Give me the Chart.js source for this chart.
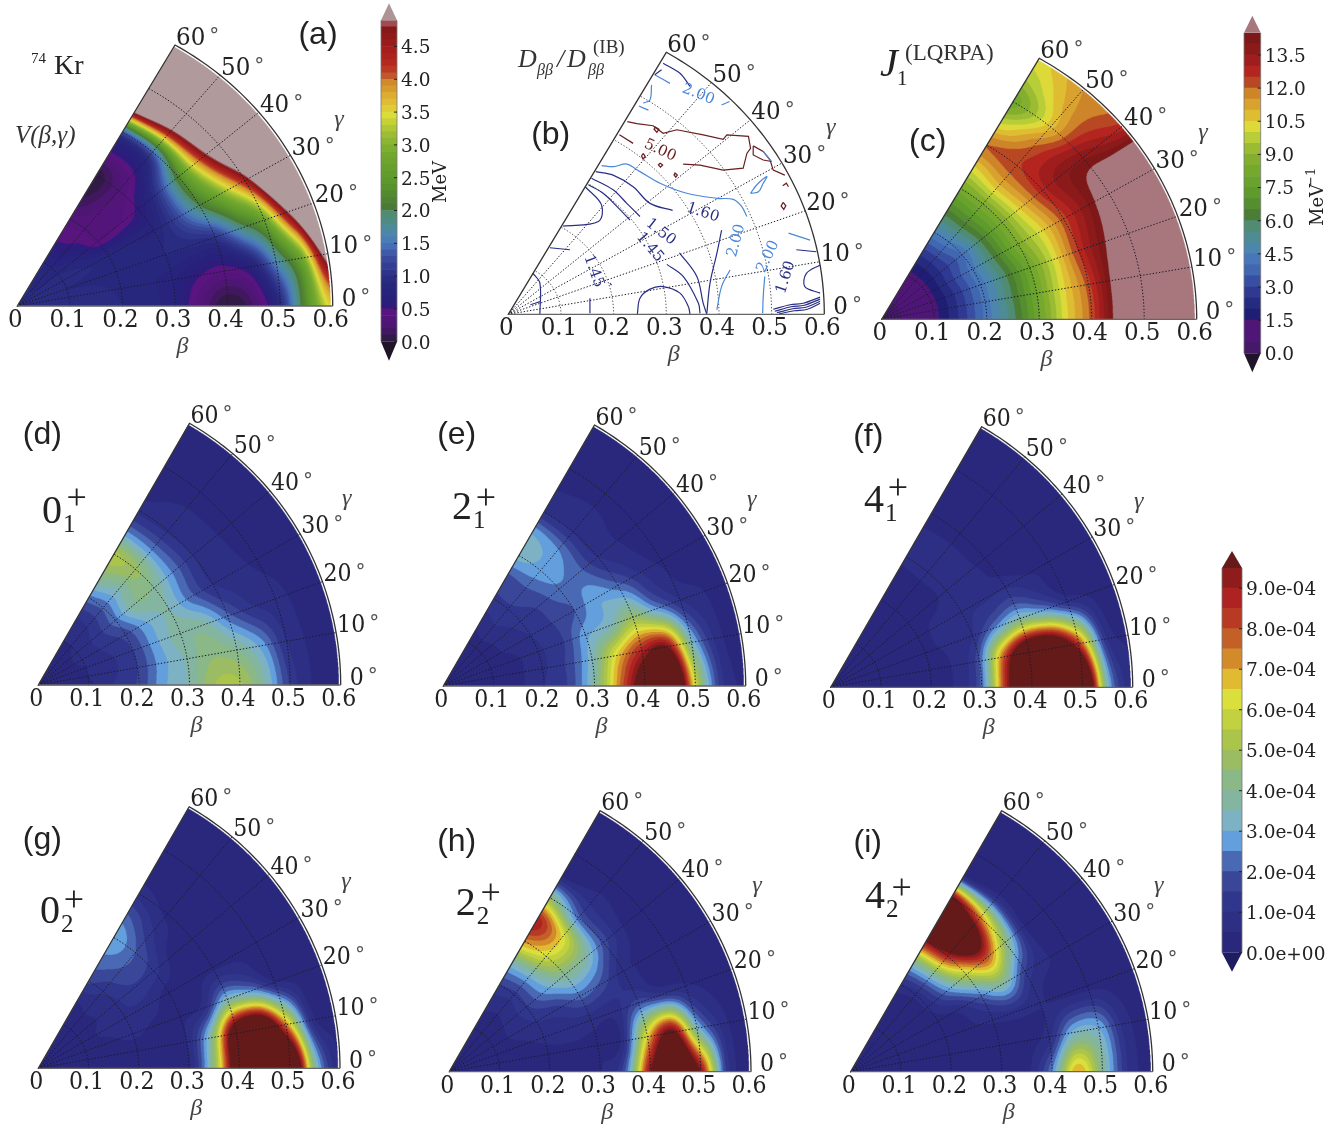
<!DOCTYPE html>
<html>
<head>
<meta charset="utf-8">
<title>74Kr collective wave functions</title>
<script src="https://cdn.jsdelivr.net/npm/chart.js@4/dist/chart.umd.min.js"></script>
<style>
  html, body { margin: 0; padding: 0; background: #fff; }
  #page { position: relative; width: 1344px; height: 1124px; overflow: hidden; }
  canvas { position: absolute; }
</style>
</head>
<body>
<div id="page"></div>
<script>
// ---- data: rows are gamma 0..60 (step 10), columns are beta 0..0.6 (step 0.05) ----
const BETA_NODES = [0, .05, .1, .15, .2, .25, .3, .35, .4, .45, .5, .55, .6];
const GAMMA_NODES = [0, 10, 20, 30, 40, 50, 60];
const BETA_TICKS = [0, .1, .2, .3, .4, .5, .6];
const BETA_LABELS = ["0", "0.1", "0.2", "0.3", "0.4", "0.5", "0.6"];
const GAMMA_TICKS = [0, 10, 20, 30, 40, 50, 60];

// V(beta,gamma), MeV
const gridA = [
  [.95,.95,.95,.93,.9,.85,.7,.3,0,.2,.9,2.3,3.6],
  [.95,.95,.95,.93,.88,.83,.72,.52,.42,.68,1.6,2.8,5.3],
  [.95,.93,.9,.88,.85,.85,.9,.92,1.05,1.8,2.7,5,7.5],
  [.95,.92,.95,.9,.85,.8,.8,1.2,2,3,4.5,7,8],
  [.95,.9,.88,.75,.4,.4,.55,1.1,2.2,4,6.2,8,9],
  [.95,.88,.8,.55,.38,.32,.3,.55,1.4,4.5,6.8,8,9],
  [.95,.9,.8,.5,.35,.1,.02,.45,1.3,5.2,7,8,9],
];
// J1 (LQRPA), 1/MeV
const gridC = [
  [.3,.6,1.3,2.6,4.2,5.8,7.9,10.3,12.2,15,17,18,18],
  [.3,.6,1.3,2.6,4.2,5.9,8,10.3,12.3,14.9,17,18,18],
  [.3,.6,1.3,2.6,4.2,5.9,8,10.2,12.6,14.4,16,18,18],
  [.3,.6,1.3,2.7,4.3,6.2,8.5,10.3,12.3,13.9,15.5,17,18],
  [.3,.6,1.3,2.6,4,6.3,8.5,10.8,12.8,13.8,13.9,13.3,12.7],
  [.3,.6,1.3,2.6,4.4,6.5,8.5,11,12.4,12,10.8,11.2,11.5],
  [.3,.6,1.3,2.6,4.5,6.4,8.3,10.4,12,10,8.2,9.5,10.3],
];
// probability densities, in units of 1e-4
const gridD = [
  [.35,.35,.4,1,1.6,2.9,3.6,5,5.1,3.6,1.4,.4,.3],
  [.35,.35,.5,.9,1.5,2.8,3.6,4.4,4,2.8,1,.4,.3],
  [.3,.35,.5,.9,1.5,2.9,3.8,3.7,2.2,1.1,.7,.35,.3],
  [.3,.35,.6,1.1,1.7,3,3.5,2.2,1,.7,.4,.3,.3],
  [.3,.35,.6,1.2,2.3,3.9,3.9,2.4,1,.6,.3,.3,.3],
  [.3,.35,.5,1,2.1,3.6,4.7,2.5,.9,.55,.3,.3,.3],
  [.3,.35,.5,.9,2.3,4.2,5.2,2.6,.8,.4,.3,.3,.3],
];
const gridE = [
  [.3,.3,.3,.4,1,1.6,3.8,7.5,11,14,6,1.3,.4],
  [.3,.3,.3,.4,.9,1.6,3.4,6.5,8.8,9.6,3.5,.8,.3],
  [.3,.3,.3,.4,.9,1.4,2.8,3.4,4.7,2.7,1,.5,.3],
  [.3,.3,.3,.6,1,1.5,2,2.9,2.2,1,.4,.3,.3],
  [.3,.3,.3,.7,1.2,1.6,2.4,2.2,1,.5,.3,.3,.3],
  [.3,.3,.3,.9,1.4,1.9,2.8,2.6,1,.6,.3,.3,.3],
  [.3,.3,.3,.7,1.4,1.8,3.2,3,1,.5,.3,.3,.3],
];
const gridF = [
  [.3,.3,.3,.3,.3,.6,2.2,9,14,14,14,3.5,.5],
  [.3,.3,.3,.3,.3,.6,2,8,12.5,12.5,8.5,1.5,.4],
  [.3,.3,.3,.3,.4,.6,1,2.6,3.8,2.7,1,.4,.3],
  [.3,.3,.3,.3,.3,.7,.9,.9,.9,.5,.3,.3,.3],
  [.3,.3,.3,.3,.3,.3,.65,.7,.3,.3,.3,.3,.3],
  [.3,.3,.3,.3,.3,.3,.65,.65,.3,.3,.3,.3,.3],
  [.3,.3,.3,.3,.3,.3,.6,.6,.3,.3,.3,.3,.3],
];
const gridG = [
  [.3,.3,.3,.3,.3,.3,.4,4.5,12,14,14,4,.4],
  [.3,.3,.3,.3,.3,.3,.5,4,11.5,13,7.5,1,.3],
  [.3,.3,.3,.4,.6,.4,.4,.8,3.5,2.7,.6,.3,.3],
  [.3,.3,.3,.6,.9,.8,.3,.3,.35,.3,.3,.3,.3],
  [.3,.3,.3,.5,.9,1.4,1.2,.3,.3,.3,.3,.3,.3],
  [.3,.3,.3,.55,1.1,1.9,2,1.1,.4,.3,.3,.3,.3],
  [.3,.3,.3,.45,1.6,2.3,3,2.1,.8,.3,.3,.3,.3],
];
const gridH = [
  [.3,.3,.3,.3,.3,.3,.45,2,9.5,13,9.5,1.5,.4],
  [.3,.3,.3,.3,.4,.4,.45,.7,6.5,10,3.5,.8,.3],
  [.3,.3,.3,.4,.6,.75,.7,.7,1.8,1.2,.6,.3,.3],
  [.3,.3,.3,.6,1,1.3,2.2,1.8,.7,.4,.3,.3,.3],
  [.3,.3,.3,.6,1.4,2.7,4,3.8,1.8,.5,.3,.3,.3],
  [.3,.3,.3,.5,1.3,3.2,6,6.3,2.2,.7,.3,.3,.3],
  [.3,.3,.3,.6,1.5,3.5,7.2,8.8,4.5,.4,.3,.3,.3],
];
const gridI = [
  [.3,.3,.3,.3,.3,.3,.3,.3,2.5,7,4,1,.3],
  [.3,.3,.3,.3,.3,.3,.3,.35,.8,3.2,3,.8,.3],
  [.3,.3,.3,.3,.35,.4,.6,.8,.55,.35,.3,.3,.3],
  [.3,.3,.3,.3,.35,.7,2.2,3.8,1.5,.55,.3,.3,.3],
  [.3,.3,.3,.3,.6,2.5,5.5,8,4.5,.5,.3,.3,.3],
  [.3,.3,.3,.3,.7,3.5,8.8,12.5,7.5,1,.3,.3,.3],
  [.3,.3,.3,.3,.9,3.8,9.5,14,10,.5,.3,.3,.3],
];

// panel (b) contour lines, as [beta cos(gamma), beta sin(gamma)]
const redLines = [
  [[.226,.382],[.244,.378],[.275,.374],[.294,.359],[.32,.366],[.37,.356],[.408,.347],[.415,.356],[.456,.353],[.46,.329],[.453,.319],[.446,.29],[.408,.286],[.364,.296],[.332,.298]],
  [[.211,.356],[.237,.339]],
  [[.465,.334],[.484,.323],[.497,.306],[.503,.286],[.525,.276]],
  [[.465,.334],[.465,.316],[.484,.306],[.5,.303]],
  [[.522,.222],[.527,.215],[.523,.208],[.518,.215],[.522,.222]],
  [[.316,.281],[.321,.276],[.318,.272],[.315,.276],[.316,.281]],
  [[.288,.3],[.293,.296],[.289,.292],[.285,.296],[.288,.3]],
  [[.256,.319],[.26,.313],[.256,.308],[.253,.314],[.256,.319]],
  [[.278,.372],[.286,.367],[.282,.361],[.277,.367],[.278,.372]],
  [[.521,.255],[.528,.26],[.532,.253]],
];
const blueLines = [
  [[.177,.295],[.2,.293],[.225,.298],[.25,.283],[.288,.26],[.339,.24],[.396,.23],[.427,.228],[.443,.214],[.453,.194]],
  [[.278,.475],[.307,.458]],
  [[.272,.455],[.269,.425],[.256,.419]],
  [[.248,.413],[.266,.405]],
  [[.405,.415],[.42,.422]],
  [[.421,.088],[.405,.055],[.396,.009]],
  [[.487,.075],[.484,.035],[.483,.002]],
  [[.532,.161],[.573,.147]],
  [[.46,.24],[.472,.257],[.491,.273],[.484,.26],[.475,.243],[.46,.24]],
  [[.484,.323],[.5,.303]],
];
const navyLines = [
  [[.166,.283],[.199,.276],[.237,.253],[.269,.22],[.312,.206]],
  [[.158,.27],[.199,.247],[.225,.22],[.25,.194]],
  [[.152,.257],[.18,.24],[.206,.214],[.231,.187]],
  [[.146,.253],[.177,.217],[.171,.184],[.104,.175]],
  [[.079,.132],[.117,.128]],
  [[.047,.081],[.06,.062],[.06,0]],
  [[.042,.019],[.06,.025]],
  [[.155,.032],[.155,.002]],
  [[.193,.062],[.196,.058]],
  [[.245,0],[.25,.032],[.269,.05],[.294,.055],[.326,.042],[.342,.015],[.345,0]],
  [[.301,.099],[.332,.075],[.361,.022],[.364,.002]],
  [[.325,.122],[.358,.075],[.37,.022],[.377,0]],
  [[.405,.167],[.396,.121],[.383,.062],[.377,.002]],
  [[.547,.128],[.585,.124]],
  [[.592,.098],[.566,.081],[.563,.055],[.592,.042]],
  [[.503,.01],[.535,.019],[.56,.022],[.592,.034]],
  [[.506,.006],[.537,.015],[.562,.018],[.592,.03]],
  [[.51,.003],[.54,.011],[.565,.014],[.592,.026]],
  [[.514,.001],[.543,.007],[.568,.01],[.592,.022]],
  [[.294,.498],[.326,.478],[.345,.452]],
  [[.278,.475],[.291,.485]],
];
const contourTexts = ["1.45", "1.45", "1.50", "1.60", "1.60", "2.00", "2.00", "2.00", "5.00"];
const contourX = [.155, .263, .285, .367, .534, .358, .44, .5, .285];
const contourY = [.083, .128, .157, .194, .071, .429, .144, .111, .318];
const contourAngle = [70, 50, 38, 18, -72, 22, -75, -65, 25];
const contourColor = ["#2a2f86", "#2a2f86", "#2a2f86", "#2a2f86", "#2a2f86", "#4a88d8", "#4a88d8", "#4a88d8", "#6a1e1e"];

// colour bars
const probColors = ["#29287c","#2c2f84","#30368c","#3a4798","#4a69b4","#629fdc","#7cb2c4","#83b5a0","#8ab886","#9bbc62",
  "#abc44a","#c2d140","#dbdf3c","#e0ba30","#d28a2a","#c26028","#b83a24","#ae2222","#8f1c1c"];
const probTicks = [0,1,2,3,4,5,6,7,8,9];
const probLabels = ["0.0e+00","1.0e-04","2.0e-04","3.0e-04","4.0e-04","5.0e-04","6.0e-04","7.0e-04","8.0e-04","9.0e-04"];
const energyTicks = [0,.5,1,1.5,2,2.5,3,3.5,4,4.5];
const energyLabels = ["0.0","0.5","1.0","1.5","2.0","2.5","3.0","3.5","4.0","4.5"];
const inertiaTicks = [0,1.5,3,4.5,6,7.5,9,10.5,12,13.5];
const inertiaLabels = ["0.0","1.5","3.0","4.5","6.0","7.5","9.0","10.5","12.0","13.5"];
const energyStops = [[0,"#2a1a3a"],[.1,"#371a50"],[.2,"#4a1670"],[.45,"#5a1480"],[.5,"#34187c"],[.6,"#28207c"],[.9,"#28287e"],[1.1,"#30388c"],[1.3,"#3c50a4"],[1.5,"#4a78bc"],[1.7,"#4d8ca0"],[1.95,"#4f8c70"],[2.05,"#4a7a34"],[2.4,"#5a962c"],[2.9,"#74aa2e"],[3.2,"#a4c034"],[3.45,"#dcdc38"],[3.7,"#e0b432"],[3.95,"#d08a2a"],[4.05,"#c0582a"],[4.2,"#b82a20"],[4.5,"#a01c1c"],[4.75,"#861818"],[4.85,"#a04a54"]];
const inertiaStops = [[0,"#3c1a5c"],[.5,"#4f1678"],[1.4,"#4f1678"],[1.6,"#1e1a70"],[2.2,"#252a80"],[3,"#33409a"],[3.6,"#3e62ac"],[4.4,"#4a7cbc"],[5,"#4d8ca4"],[5.8,"#4f8c70"],[6.2,"#4a7c34"],[7,"#5a962c"],[8,"#6ea62c"],[9,"#8bb22e"],[9.7,"#b4cc38"],[10.2,"#dcdc38"],[10.9,"#e0b432"],[11.7,"#d08a2a"],[12.2,"#b84a24"],[12.8,"#b42220"],[13.4,"#981c1c"],[14.2,"#7e1818"]];

// ---- helpers ----
const SERIF = '"DejaVu Serif"';
const TNR = '"Liberation Serif"';
const SANS = '"Liberation Sans"';
const INK = "#222";
const page = document.getElementById("page");

function hexRgb(h){ return [parseInt(h.slice(1,3),16), parseInt(h.slice(3,5),16), parseInt(h.slice(5,7),16)]; }
function rgbHex(c){ return "#" + c.map(v => Math.round(v).toString(16).padStart(2,"0")).join(""); }
function binColors(stops, step, n){
  const out = [];
  for (let i = 0; i < n; i++){
    const v = (i + .5) * step;
    let k = 0;
    while (k < stops.length - 2 && stops[k+1][0] < v) k++;
    const a = stops[k], b = stops[k+1];
    const t = Math.max(0, Math.min(1, (v - a[0]) / (b[0] - a[0])));
    const ca = hexRgb(a[1]), cb = hexRgb(b[1]);
    out.push(rgbHex(ca.map((x, j) => x + (cb[j] - x) * t)));
  }
  return out;
}
const energyColors = binColors(energyStops, .1, 49);
const inertiaColors = binColors(inertiaStops, .5, 29);

const mapProb = { step: .5, colors: probColors, over: "#641a18" };
const mapEnergy = { step: .1, colors: energyColors, over: "#b09a9c" };
const mapInertia = { step: .5, colors: inertiaColors, over: "#a8777d" };

function addCanvas(l, t, w, h){
  const c = document.createElement("canvas");
  c.width = w; c.height = h;
  c.style.left = l + "px"; c.style.top = t + "px";
  c.style.width = w + "px"; c.style.height = h + "px";
  page.appendChild(c);
  return c;
}

function put(ctx, s, x, y, font, color, align, angle, squeeze){
  ctx.save();
  ctx.font = font;
  ctx.fillStyle = color || INK;
  ctx.textAlign = align || "left";
  ctx.textBaseline = "alphabetic";
  ctx.translate(x, y);
  if (angle) ctx.rotate(angle * Math.PI / 180);
  if (squeeze) ctx.scale(squeeze, 1);
  ctx.fillText(s, 0, 0);
  ctx.restore();
}

function catmull(p0, p1, p2, p3, t){
  return .5 * (2*p1 + (p2-p0)*t + (2*p0-5*p1+4*p2-p3)*t*t + (3*p1-p0-3*p2+p3)*t*t*t);
}
function sampleGrid(g, beta, gamma){
  const bi = Math.min(beta / .05, 11.9999), gi = Math.min(gamma / 10, 5.9999);
  const i = Math.floor(bi), j = Math.floor(gi), tb = bi - i, tg = gi - j;
  const vals = [];
  for (let r = j - 1; r <= j + 2; r++){
    const row = g[Math.max(0, Math.min(6, r))];
    vals.push(catmull(row[Math.max(0,i-1)], row[i], row[i+1], row[Math.min(12,i+2)], tb));
  }
  return catmull(vals[0], vals[1], vals[2], vals[3], tg);
}

function drawHeat(chart, panel){
  const { ctx, chartArea: a, scales: { x, y } } = chart;
  const W = Math.ceil(a.right - a.left), H = Math.ceil(a.bottom - a.top), S = 3;
  const off = document.createElement("canvas");
  off.width = W * S; off.height = H * S;
  const oc = off.getContext("2d");
  const img = oc.createImageData(off.width, off.height);
  const colors = panel.map.colors.map(hexRgb), over = hexRgb(panel.map.over), step = panel.map.step;
  const xs = [], ys = [];
  for (let px = 0; px < off.width; px++) xs.push(x.getValueForPixel(a.left + (px + .5) / S));
  for (let py = 0; py < off.height; py++) ys.push(y.getValueForPixel(a.top + (py + .5) / S));
  for (let py = 0; py < off.height; py++){
    for (let px = 0; px < off.width; px++){
      const bx = xs[px], by = ys[py];
      if (by < 0 || bx < 0) continue;
      const beta = Math.hypot(bx, by);
      if (beta > .596) continue;
      const gamma = Math.atan2(by, bx) * 180 / Math.PI;
      if (gamma > 60) continue;
      const v = sampleGrid(panel.grid, beta, gamma);
      const idx = Math.max(0, Math.floor(v / step));
      const c = idx >= colors.length ? over : colors[idx];
      const o = (py * off.width + px) * 4;
      img.data[o] = c[0]; img.data[o+1] = c[1]; img.data[o+2] = c[2]; img.data[o+3] = 255;
    }
  }
  oc.putImageData(img, 0, 0);
  ctx.save();
  ctx.imageSmoothingEnabled = true;
  ctx.imageSmoothingQuality = "high";
  ctx.drawImage(off, a.left, a.top, W, H);
  ctx.restore();
}

function polar(chart, beta, gamma){
  const r = gamma * Math.PI / 180;
  return [chart.scales.x.getPixelForValue(beta * Math.cos(r)), chart.scales.y.getPixelForValue(beta * Math.sin(r))];
}

function drawGrid(chart, dark){
  const ctx = chart.ctx;
  ctx.save();
  ctx.lineWidth = 1;
  ctx.lineCap = "round";
  ctx.setLineDash([.6, 2.6]);
  ctx.strokeStyle = dark ? "#1a1a2a" : "#555";
  for (const b of [.1, .2, .3, .4, .5]){
    ctx.beginPath();
    for (let g = 0; g <= 60; g++){
      const p = polar(chart, b, g);
      if (g) ctx.lineTo(p[0], p[1]); else ctx.moveTo(p[0], p[1]);
    }
    ctx.stroke();
  }
  ctx.strokeStyle = "#1a1a2a";
  for (const g of [10, 20, 30, 40, 50]){
    const p0 = polar(chart, 0, g), p1 = polar(chart, .6, g);
    ctx.beginPath(); ctx.moveTo(p0[0], p0[1]); ctx.lineTo(p1[0], p1[1]); ctx.stroke();
  }
  ctx.restore();
}

function drawFrame(chart, panel){
  const ctx = chart.ctx;
  ctx.save();
  ctx.strokeStyle = "#333";
  ctx.lineWidth = 1.3;
  ctx.lineJoin = "round";
  ctx.beginPath();
  let p = polar(chart, 0, 60); ctx.moveTo(p[0], p[1]);
  for (let g = 60; g >= 0; g--){ p = polar(chart, .6, g); ctx.lineTo(p[0], p[1]); }
  ctx.stroke();
  ctx.strokeStyle = "#666";
  ctx.beginPath();
  p = polar(chart, .6, 0); ctx.moveTo(p[0], p[1]);
  p = polar(chart, 0, 0); ctx.lineTo(p[0], p[1]);
  ctx.stroke();
  ctx.restore();

  const fs = panel.tickSize, font = fs + "px " + SERIF, y0 = chart.scales.y.getPixelForValue(0);
  BETA_TICKS.forEach((b, i) => {
    put(ctx, BETA_LABELS[i], chart.scales.x.getPixelForValue(b) - 2, y0 + 21, font, INK, "center", 0, .92);
  });
  GAMMA_TICKS.forEach(g => {
    const q = polar(chart, .6, g);
    const lx = q[0] + (g === 0 ? 9 : 1), by = q[1] - .5;
    const s = String(g);
    put(ctx, s, lx, by, font, INK, "left", 0, .92);
    ctx.font = font;
    const w = ctx.measureText(s).width * .92;
    put(ctx, "°", lx + w + 4, by - 3, "20px " + SERIF, "#555");
  });
  put(ctx, "γ", chart.scales.x.getPixelForValue(.612), chart.scales.y.getPixelForValue(.37) + 6, "italic 24px " + TNR, "#444", "center");
  put(ctx, "β", chart.scales.x.getPixelForValue(.314), y0 + 47, "italic 24px " + TNR, "#444", "center");

  // panel letter and annotations are given in page coordinates
  const dx = -panel.left, dy = -panel.top;
  put(ctx, panel.letter, panel.lx + dx, panel.ly + dy + 9, "32px " + SANS, INK, "center");
  if (panel.state){
    const st = panel.state;
    put(ctx, st[0], st[1] + dx, st[2] + dy, "40px " + TNR, INK);
    put(ctx, st[3], st[1] + dx + 21, st[2] + dy + 9, "25px " + TNR, INK);
    put(ctx, "+", st[4] + dx, st[5] + dy + 11, "36px " + TNR, INK, "center");
  }
  if (panel.extra) panel.extra(ctx, dx, dy, chart);
}

function makePanel(panel){
  const H = panel.dy / Math.sin(Math.PI / 3);
  const padL = 30, padT = 4, padR = 110, padB = 62;
  panel.left = Math.round(panel.ox - padL);
  panel.top = Math.round(panel.oy - H - padT);
  const w = Math.round(panel.rx) + padL + padR, h = Math.round(H) + padT + padB;
  const canvas = addCanvas(panel.left, panel.top, w, h);
  const L = panel.ox - panel.left, T = panel.oy - H - panel.top;
  let datasets = [];
  if (panel.grid){
    const nodes = [];
    panel.grid.forEach((row, j) => row.forEach((v, i) => {
      const r = GAMMA_NODES[j] * Math.PI / 180;
      nodes.push({ x: BETA_NODES[i] * Math.cos(r), y: BETA_NODES[i] * Math.sin(r), v });
    }));
    datasets.push({ data: nodes, pointRadius: 0, showLine: false });
  } else {
    const add = (list, color, tension) => list.forEach(l => datasets.push({
      data: l.map(q => ({ x: q[0], y: q[1] })), showLine: true, pointRadius: 0,
      borderColor: color, borderWidth: 1.2, tension, fill: false,
    }));
    add(navyLines, "#2a2f86", .35);
    add(blueLines, "#4a88d8", .35);
    add(redLines, "#6a1e1e", 0);
  }
  new Chart(canvas, {
    type: "scatter",
    data: { datasets },
    options: {
      responsive: false, animation: false, devicePixelRatio: 1,
      layout: { padding: { left: L, top: T, right: w - L - panel.rx, bottom: h - T - H } },
      plugins: { legend: { display: false }, tooltip: { enabled: false } },
      scales: {
        x: { type: "linear", min: 0, max: .6, display: false },
        y: { type: "linear", min: 0, max: .6, display: false },
      },
    },
    plugins: [{
      id: "wedge",
      beforeDatasetsDraw(chart){
        if (panel.grid) drawHeat(chart, panel);
        drawGrid(chart, !!panel.grid);
      },
      afterDraw(chart){ drawFrame(chart, panel); },
    }],
  });
}

function makeColorbar(bar){
  const top = bar.zeroY - bar.max * bar.unit, bottom = bar.zeroY;
  const cl = bar.barL - 2, ct = Math.round(top - 26), cw = bar.width, ch = Math.round(bottom - ct + 26);
  const canvas = addCanvas(cl, ct, cw, ch);
  const datasets = bar.colors.map((color, i) => ({
    data: [[i * bar.step, Math.min(bar.max, (i + 1) * bar.step)]],
    backgroundColor: color, borderWidth: 0, barPercentage: 1, categoryPercentage: 1, grouped: false,
  }));
  const axisW = cw - (bar.barR - cl);
  new Chart(canvas, {
    type: "bar",
    data: { labels: [""], datasets },
    options: {
      responsive: false, animation: false, devicePixelRatio: 1,
      layout: { padding: { left: bar.barL - cl, top: top - ct, bottom: ct + ch - bottom, right: 0 } },
      plugins: { legend: { display: false }, tooltip: { enabled: false } },
      scales: {
        x: { display: false, stacked: false },
        y: {
          position: "right", min: 0, max: bar.max,
          afterFit: s => { s.width = axisW; },
          afterBuildTicks: s => { s.ticks = bar.ticks.map(v => ({ value: v })); },
          grid: { display: false, tickLength: 0 }, border: { display: false },
          ticks: {
            autoSkip: false, maxRotation: 0, padding: 4, color: INK, labelOffset: 2,
            font: { family: "DejaVu Serif", size: 18.5 },
            callback: (v, i) => bar.labels[i],
          },
        },
      },
    },
    plugins: [{
      id: "caps",
      afterDraw(chart){
        const { ctx, chartArea: a, scales: { y } } = chart;
        const mid = (a.left + a.right) / 2;
        ctx.save();
        ctx.fillStyle = bar.over;
        ctx.beginPath(); ctx.moveTo(a.left, a.top); ctx.lineTo(mid, a.top - 17); ctx.lineTo(a.right, a.top); ctx.closePath(); ctx.fill();
        ctx.fillStyle = bar.under;
        ctx.beginPath(); ctx.moveTo(a.left, a.bottom); ctx.lineTo(mid, a.bottom + 19); ctx.lineTo(a.right, a.bottom); ctx.closePath(); ctx.fill();
        ctx.strokeStyle = "#777"; ctx.lineWidth = .8;
        ctx.beginPath();
        ctx.moveTo(a.left, a.top); ctx.lineTo(a.left, a.bottom);
        ctx.moveTo(a.right, a.top); ctx.lineTo(a.right, a.bottom);
        ctx.stroke();
        ctx.strokeStyle = "#222"; ctx.lineWidth = 1;
        bar.ticks.forEach(v => {
          const p = y.getPixelForValue(v);
          ctx.beginPath(); ctx.moveTo(a.right - 3, p); ctx.lineTo(a.right, p); ctx.stroke();
        });
        ctx.restore();
        if (bar.title) bar.title(ctx, cl, ct);
      },
    }],
  });
}

// ---- figure ----
const panels = [
  { letter: "(a)", grid: gridA, map: mapEnergy, ox: 17.3, oy: 306, rx: 315.4, dy: 261, tickSize: 25, lx: 318, ly: 35,
    extra(ctx, dx, dy){
      put(ctx, "74", 31 + dx, 63 + dy, "15px " + TNR);
      put(ctx, "Kr", 54 + dx, 74 + dy, "28px " + TNR);
      put(ctx, "V(β,γ)", 15 + dx, 143 + dy, "italic 25px " + TNR, "#333");
    } },
  { letter: "(b)", grid: null, ox: 508.3, oy: 314.3, rx: 316, dy: 262, tickSize: 25, lx: 550.7, ly: 135,
    extra(ctx, dx, dy, chart){
      put(ctx, "D", 518 + dx, 67 + dy, "italic 26px " + TNR, "#333");
      put(ctx, "ββ", 537 + dx, 75 + dy, "italic 16px " + TNR, "#333");
      put(ctx, "/", 557 + dx, 67 + dy, "italic 26px " + TNR, "#333");
      put(ctx, "D", 567 + dx, 67 + dy, "italic 26px " + TNR, "#333");
      put(ctx, "ββ", 588 + dx, 75 + dy, "italic 16px " + TNR, "#333");
      put(ctx, "(IB)", 593 + dx, 53 + dy, "19px " + TNR, "#333");
      contourTexts.forEach((s, i) => {
        const c = chart;
        put(ctx, s, c.scales.x.getPixelForValue(contourX[i]), c.scales.y.getPixelForValue(contourY[i]), "15px " + SERIF, contourColor[i], "center", contourAngle[i]);
      });
    } },
  { letter: "(c)", grid: gridC, map: mapInertia, ox: 881.7, oy: 319.3, rx: 315, dy: 261, tickSize: 25, lx: 927.7, ly: 141.7,
    extra(ctx, dx, dy){
      put(ctx, "J", 880 + dx, 76 + dy, "italic 40px " + TNR);
      put(ctx, "1", 897 + dx, 85 + dy, "21px " + TNR);
      put(ctx, "(LQRPA)", 905 + dx, 60 + dy, "23px " + TNR, "#333");
    } },
  { letter: "(d)", grid: gridD, map: mapProb, ox: 38.3, oy: 685, rx: 302.4, dy: 261.7, tickSize: 24, lx: 42.3, ly: 435, state: ["0", 42, 523, "1", 76.7, 498] },
  { letter: "(e)", grid: gridE, map: mapProb, ox: 443.3, oy: 686, rx: 302.4, dy: 261, tickSize: 24, lx: 456.7, ly: 435, state: ["2", 452, 519, "1", 486, 498] },
  { letter: "(f)", grid: gridF, map: mapProb, ox: 830.7, oy: 687.3, rx: 302, dy: 260.6, tickSize: 24, lx: 868.3, ly: 436.7, state: ["4", 864, 511.7, "1", 898, 488] },
  { letter: "(g)", grid: gridG, map: mapProb, ox: 38.3, oy: 1068.3, rx: 301.7, dy: 261.6, tickSize: 24, lx: 42.3, ly: 840, state: ["0", 40, 923, "2", 74, 900] },
  { letter: "(h)", grid: gridH, map: mapProb, ox: 449.3, oy: 1071.7, rx: 301.7, dy: 261, tickSize: 24, lx: 456.7, ly: 841.7, state: ["2", 455.7, 915, "2", 490.7, 893] },
  { letter: "(i)", grid: gridI, map: mapProb, ox: 850.7, oy: 1071.7, rx: 302, dy: 261, tickSize: 24, lx: 867.7, ly: 843.3, state: ["4", 865, 908, "2", 901.7, 888] },
];
panels.forEach(makePanel);

makeColorbar({ barL: 380.7, barR: 396.7, zeroY: 341.7, unit: 65.6, max: 4.9, step: .1, colors: energyColors,
  over: "#ad9596", under: "#201428", ticks: energyTicks, labels: energyLabels, width: 80,
  title(ctx, cl, ct){ put(ctx, "MeV", 446 - cl, 203 - ct, "18px " + SERIF, INK, "left", -90); } });
makeColorbar({ barL: 1244.3, barR: 1261, zeroY: 353.3, unit: 22.1, max: 14.5, step: .5, colors: inertiaColors,
  over: "#a8777d", under: "#201428", ticks: inertiaTicks, labels: inertiaLabels, width: 90,
  title(ctx, cl, ct){
    put(ctx, "MeV", 1323 - cl, 226 - ct, "18px " + SERIF, INK, "left", -90);
    put(ctx, "−1", 1315 - cl, 187 - ct, "13px " + SERIF, INK, "left", -90);
  } });
makeColorbar({ barL: 1221.7, barR: 1241.7, zeroY: 952.7, unit: 40.5, max: 9.5, step: .5, colors: probColors,
  over: "#641a18", under: "#201c60", ticks: probTicks, labels: probLabels, width: 122 });
</script>
</body>
</html>
